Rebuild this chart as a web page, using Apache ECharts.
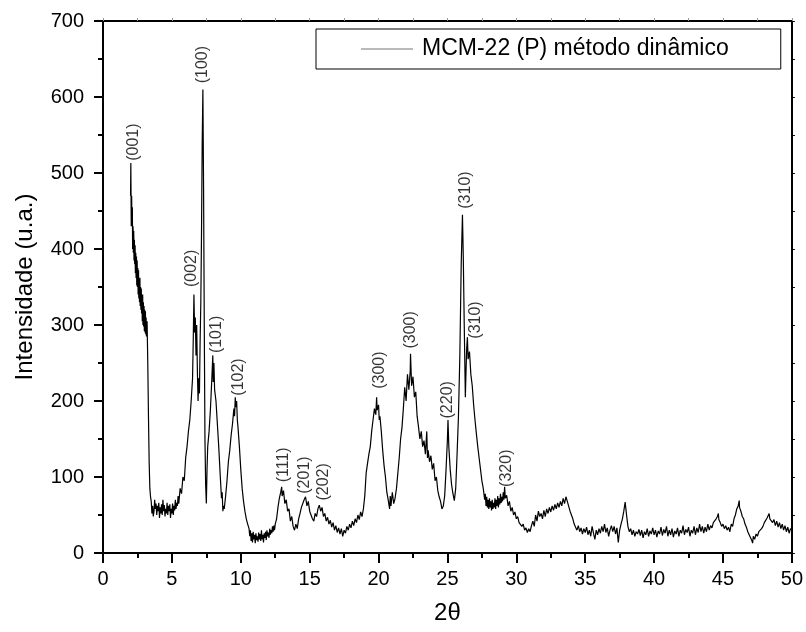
<!DOCTYPE html>
<html>
<head>
<meta charset="utf-8">
<script src="https://cdn.jsdelivr.net/npm/echarts@6/dist/echarts.min.js"></script>
<style>html,body{margin:0;padding:0;background:#fff}#c{width:806px;height:632px}</style>
</head>
<body>
<div id="c"></div>
<script>
// 2θ (deg), intensity (u.a.)
const lowAngle = [
[2.00,470],[2.02,513],[2.05,430],[2.08,470],[2.10,435],[2.13,455],[2.15,400],[2.18,430],[2.20,395],[2.23,424],
[2.25,385],[2.28,412],[2.30,380],[2.33,405],[2.35,368],[2.38,395],[2.40,362],[2.43,390],[2.45,352],[2.48,385],
[2.50,350],[2.53,375],[2.55,340],[2.58,372],[2.60,335],[2.63,360],[2.65,330],[2.68,362],[2.70,325],[2.73,350],
[2.75,320],[2.78,348],[2.80,315],[2.83,340],[2.85,305],[2.88,340],[2.90,300],[2.93,330],[2.95,298],[2.98,325],
[3.00,292],[3.03,320],[3.05,290],[3.08,318],[3.10,288],[3.13,310],[3.15,285],[3.20,305],[3.25,250],[3.30,180],
[3.35,120],[3.40,85],[3.45,74],[3.50,68],[3.55,52],[3.60,62],[3.65,48],[3.70,55],[3.75,70],[3.80,58],
[3.85,65],[3.90,50],[3.95,62],[4.00,55],[4.05,66],[4.10,46],[4.15,60],[4.20,52],[4.25,64],[4.30,50],
[4.35,70],[4.40,55],[4.45,63],[4.50,48],[4.55,58],[4.60,52],[4.65,66],[4.70,50],[4.75,62],[4.80,55],
[4.85,64],[4.90,46],[4.95,58],[5.00,52],[5.05,65],[5.10,50],[5.15,62],[5.20,56],[5.25,70],[5.30,58],
[5.35,66],[5.40,62],[5.45,75],[5.50,65],[5.60,85],[5.70,78],[5.80,100],[5.90,95],[6.00,125],[6.10,140],
[6.20,160],[6.30,175],[6.40,200],[6.50,230],[6.55,280],[6.60,340],[6.65,290],[6.70,310],[6.75,260],[6.80,300],
[6.85,240],[6.90,200],[6.95,230],[7.00,210],[7.05,280],[7.10,330],[7.15,420],[7.20,540],[7.25,610],[7.30,480],
[7.35,300],[7.40,150],[7.45,90],[7.50,65],[7.55,110],[7.60,140],[7.70,160],[7.80,190],[7.90,230],[7.97,260],
[8.00,225],[8.05,250],[8.10,215],[8.20,200],[8.30,170],[8.40,140],[8.50,105],[8.60,72],[8.65,80],[8.70,55],
[8.75,62],[8.80,58],[8.90,75],[9.00,95],[9.10,120],[9.20,135],[9.30,155],[9.40,170],[9.50,190],[9.55,180],
[9.60,205],[9.65,192],[9.70,200],[9.75,175],[9.80,165],[9.90,140],[10.00,110],[10.10,85],[10.20,68],[10.30,55],
[10.40,45],[10.50,38],[10.60,32],[10.65,22],[10.70,30],[10.75,16],[10.80,26],[10.85,14],[10.90,28],[10.95,18],
[11.00,24],[11.05,13],[11.10,26],[11.15,17],[11.20,22],[11.25,15],[11.30,27],[11.35,18],[11.40,25],[11.45,16],
[11.50,30],[11.55,18],[11.60,24],[11.65,14],[11.70,26],[11.75,20],[11.80,28],[11.85,17],[11.90,30],[11.95,22],
[12.00,27],[12.05,20],[12.10,32],[12.15,24],[12.20,30],[12.25,26],[12.30,35],[12.35,28],[12.40,36],[12.45,30],
[12.50,38],[12.60,45],[12.70,60],[12.80,72],[12.90,80],[12.97,87],[13.00,75],[13.10,82],[13.20,65],[13.30,70],
[13.40,55],[13.50,58],[13.60,42],[13.70,48],[13.80,35],[13.90,30],[14.00,38],[14.10,32],[14.20,45],[14.30,52],
[14.40,60],[14.50,58],[14.60,70],[14.70,74],[14.80,62],[14.90,68],[15.00,55],[15.10,50],[15.20,45],[15.30,42],
[15.40,52],[15.50,48],[15.60,58],[15.70,63],[15.80,55],[15.90,60],[16.00,48],[16.10,52],[16.20,42],[16.30,47],
[16.40,38],[16.50,43],[16.60,34],[16.70,40],[16.80,30],[16.90,36],[17.00,27],[17.10,33],[17.20,25],[17.30,32],
[17.40,22],[17.50,30],[17.60,26],[17.70,35],[17.80,30],[17.90,38],[18.00,33],[18.10,42],[18.20,36],[18.30,45],
[18.40,40],[18.50,50],[18.60,44],[18.70,54],[18.80,48],[18.90,58]
];
const midAngle = [
[19.00,75],[19.10,105],[19.20,118],[19.30,130],[19.40,140],[19.50,160],[19.60,175],[19.70,190],[19.80,182],[19.86,205],
[19.90,188],[20.00,195],[20.05,175],[20.10,180],[20.20,160],[20.30,135],[20.40,115],[20.50,100],[20.60,80],[20.70,70],
[20.80,58],[20.85,75],[20.90,62],[21.00,80],[21.10,65],[21.20,72],[21.30,85],[21.40,105],[21.50,125],[21.60,150],
[21.70,165],[21.80,190],[21.90,218],[22.00,200],[22.10,235],[22.20,215],[22.30,240],[22.32,262],[22.40,220],[22.50,232],
[22.60,205],[22.70,212],[22.80,180],[22.90,166],[23.00,150],[23.10,160],[23.20,140],[23.30,148],[23.40,130],[23.50,160],
[23.55,125],[23.60,135],[23.70,120],[23.80,128],[23.90,110],[24.00,118],[24.10,95],[24.20,100],[24.30,82],[24.40,74],
[24.50,68],[24.60,58],[24.70,62],[24.80,75],[24.90,110],[25.00,150],[25.04,175],[25.10,140],[25.20,110],[25.30,90],
[25.40,78],[25.50,69],[25.60,85],[25.70,130],[25.80,180],[25.90,260],[26.00,380],[26.09,445],[26.15,390],[26.22,300],
[26.30,205],[26.35,240],[26.40,270],[26.45,284],[26.50,255],[26.60,265],[26.70,235],[26.80,220],[26.90,195],[27.00,175],
[27.10,157],[27.20,140],[27.30,125],[27.40,110],[27.50,95],[27.60,85],[27.70,70],[27.75,78],[27.80,62],[27.85,74],
[27.90,60],[27.95,70],[28.00,58],[28.05,72],[28.10,60],[28.15,68],[28.20,56],[28.25,70],[28.30,58],[28.35,66],
[28.40,60],[28.45,72],[28.50,58],[28.55,70],[28.60,62],[28.65,75],[28.70,60],[28.75,72],[28.80,64],[28.85,78],
[28.90,66],[28.95,74],[29.00,68],[29.05,80],[29.10,70],[29.15,87],[29.20,72],[29.30,76],[29.40,62],[29.50,68],
[29.60,55],[29.70,60],[29.80,50],[29.90,54],[30.00,45],[30.10,48],[30.20,40],[30.30,42],[30.40,35],[30.50,38],
[30.60,30],[30.70,33],[30.80,27],[30.90,32],[31.00,28],[31.10,36],[31.20,42],[31.30,35],[31.40,50],[31.50,42],
[31.60,55],[31.70,48],[31.80,52],[31.90,45],[32.00,56],[32.10,48],[32.20,58],[32.30,52],[32.40,60],[32.50,54],
[32.60,62],[32.70,56],[32.80,64],[32.90,58],[33.00,66],[33.10,60],[33.20,68],[33.30,62],[33.40,72],[33.50,65],
[33.60,74],[33.70,68],[33.80,70],[33.90,55]
];
const highAngle = [
[34.00,50],[34.10,45],[34.20,38],[34.30,34],[34.40,30],[34.50,36],[34.60,28],[34.70,33],[34.80,25],[34.90,32],
[35.00,27],[35.10,34],[35.20,24],[35.30,30],[35.40,22],[35.50,35],[35.60,26],[35.70,18],[35.80,30],[35.90,24],
[36.00,32],[36.10,26],[36.20,35],[36.30,28],[36.40,38],[36.50,27],[36.60,33],[36.70,22],[36.80,30],[36.90,36],
[37.00,28],[37.10,35],[37.20,25],[37.30,33],[37.40,14],[37.50,30],[37.60,38],[37.70,45],[37.80,55],[37.90,67],
[38.00,50],[38.10,35],[38.20,28],[38.30,32],[38.40,24],[38.50,30],[38.60,22],[38.70,28],[38.80,25],[38.90,31],
[39.00,23],[39.10,30],[39.20,20],[39.30,28],[39.40,24],[39.50,32],[39.60,22],[39.70,29],[39.80,25],[39.90,33],
[40.00,24],[40.10,30],[40.20,21],[40.30,29],[40.40,25],[40.50,34],[40.60,23],[40.70,31],[40.80,26],[40.90,35],
[41.00,22],[41.10,30],[41.20,24],[41.30,32],[41.40,21],[41.50,29],[41.60,25],[41.70,33],[41.80,22],[41.90,30],
[42.00,26],[42.10,36],[42.20,24],[42.30,31],[42.40,27],[42.50,34],[42.60,22],[42.70,30],[42.80,26],[42.90,35],
[43.00,24],[43.10,33],[43.20,27],[43.30,38],[43.40,28],[43.50,35],[43.60,26],[43.70,34],[43.80,28],[43.90,38],
[44.00,30],[44.10,36],[44.20,33],[44.30,40],[44.40,38],[44.50,45],[44.60,48],[44.66,52],[44.70,44],[44.80,40],
[44.90,35],[45.00,38],[45.10,32],[45.20,36],[45.30,30],[45.40,34],[45.50,28],[45.60,38],[45.70,35],[45.80,45],
[45.90,50],[46.00,58],[46.10,62],[46.18,69],[46.20,60],[46.30,55],[46.40,48],[46.50,45],[46.60,38],[46.70,34],
[46.80,28],[46.90,24],[47.00,20],[47.10,16],[47.15,13],[47.20,22],[47.30,18],[47.40,25],[47.50,22],[47.60,28],
[47.70,26],[47.80,32],[47.90,35],[48.00,40],[48.10,42],[48.20,46],[48.30,48],[48.35,52],[48.40,45],[48.50,47],
[48.60,40],[48.70,44],[48.80,36],[48.90,42],[49.00,34],[49.10,40],[49.20,32],[49.30,38],[49.40,30],[49.50,36],
[49.60,28],[49.70,34],[49.80,26],[49.90,32],[50.00,30]
];

// peak annotations: Miller indices, 2θ of label, intensity at label base
const peakNames = ['(001)','(100)','(002)','(101)','(102)','(111)','(201)','(202)','(300)','(300)','(220)','(310)','(310)','(320)'];
const peakPos   = [2.2, 7.25, 6.45, 8.26, 9.83, 13.09, 14.66, 15.99, 20.09, 22.34, 25.04, 26.33, 27.05, 29.32];
const peakBase  = [516, 618, 350, 263, 207, 93, 78, 69, 216, 269, 177, 453, 282, 87];

const xTicks = { min: 0, max: 50, interval: 5 };
const yTicks = { min: 0, max: 700, interval: 100 };

const seriesName = 'MCM-22 (P) método dinâmico';
const xName = '2θ';
const yName = 'Intensidade (u.a.)';

const font = '"Liberation Sans", Arial, Helvetica, sans-serif';
const data = lowAngle.concat(midAngle, highAngle);
const labels = peakNames.map((n, i) => ({ name: n, value: [peakPos[i], peakBase[i]] }));

const chart = echarts.init(document.getElementById('c'), null, { renderer: 'canvas' });
chart.setOption({
  animation: false,
  backgroundColor: '#fff',
  textStyle: { fontFamily: font, color: '#000' },
  grid: { left: 103, right: 13, top: 21, bottom: 79 },
  legend: {
    data: [seriesName],
    left: 316, top: 29,
    padding: [8, 52, 8, 45],
    borderColor: '#000', borderWidth: 1,
    icon: 'path://M0 0 H52 V1 H0 Z',
    itemWidth: 52, itemHeight: 14,
    itemStyle: { color: '#777', borderWidth: 0 },
    textStyle: { fontSize: 23, fontFamily: font, color: '#000', padding: [0, 0, 0, 4], lineHeight: 24 }
  },
  xAxis: [{
    type: 'value', min: xTicks.min, max: xTicks.max, interval: xTicks.interval,
    name: xName, nameLocation: 'middle', nameGap: 48,
    nameTextStyle: { fontSize: 24, fontFamily: font, color: '#000' },
    axisLine: { show: true, onZero: false, lineStyle: { color: '#000', width: 2 } },
    axisTick: { show: true, inside: false, length: 10, lineStyle: { color: '#000', width: 2 } },
    minorTick: { show: true, splitNumber: 2, length: 5, lineStyle: { color: '#000', width: 2 } },
    axisLabel: { fontSize: 20, color: '#000', margin: 16, fontFamily: font },
    splitLine: { show: false }
  }, {
    type: 'value', position: 'top', min: xTicks.min, max: xTicks.max, interval: 2.5,
    axisLine: { show: true, onZero: false, lineStyle: { color: '#000', width: 2 } },
    axisTick: { show: true, inside: false, length: 3, lineStyle: { color: '#999', width: 1 } },
    axisLabel: { show: false }, splitLine: { show: false }
  }],
  yAxis: [{
    type: 'value', min: yTicks.min, max: yTicks.max, interval: yTicks.interval,
    name: yName, nameLocation: 'middle', nameGap: 66, nameRotate: 90,
    nameTextStyle: { fontSize: 24, fontFamily: font, color: '#000' },
    axisLine: { show: true, onZero: false, lineStyle: { color: '#000', width: 2 } },
    axisTick: { show: true, inside: false, length: 9, lineStyle: { color: '#000', width: 2 } },
    minorTick: { show: true, splitNumber: 2, length: 5, lineStyle: { color: '#000', width: 2 } },
    axisLabel: { fontSize: 20, color: '#000', margin: 19, fontFamily: font },
    splitLine: { show: false }
  }, {
    type: 'value', position: 'right', min: yTicks.min, max: yTicks.max, interval: 50,
    axisLine: { show: true, onZero: false, lineStyle: { color: '#000', width: 2 } },
    axisTick: { show: true, inside: false, length: 3, lineStyle: { color: '#000', width: 1 } },
    axisLabel: { show: false }, splitLine: { show: false }
  }],
  series: [{
    name: seriesName, type: 'line', data: data, symbol: 'none',
    xAxisIndex: 0, yAxisIndex: 0,
    lineStyle: { color: '#000', width: 1.2 }, itemStyle: { color: '#777' },
    emphasis: { disabled: true }, silent: true
  }, {
    name: 'labels', type: 'scatter', data: labels, symbolSize: 0,
    xAxisIndex: 0, yAxisIndex: 0, silent: true,
    label: {
      show: true, formatter: '{b}', position: [0, 0], rotate: 90,
      align: 'left', verticalAlign: 'middle',
      fontSize: 16, fontFamily: font, color: '#000'
    }
  }]
});
</script>
</body>
</html>
